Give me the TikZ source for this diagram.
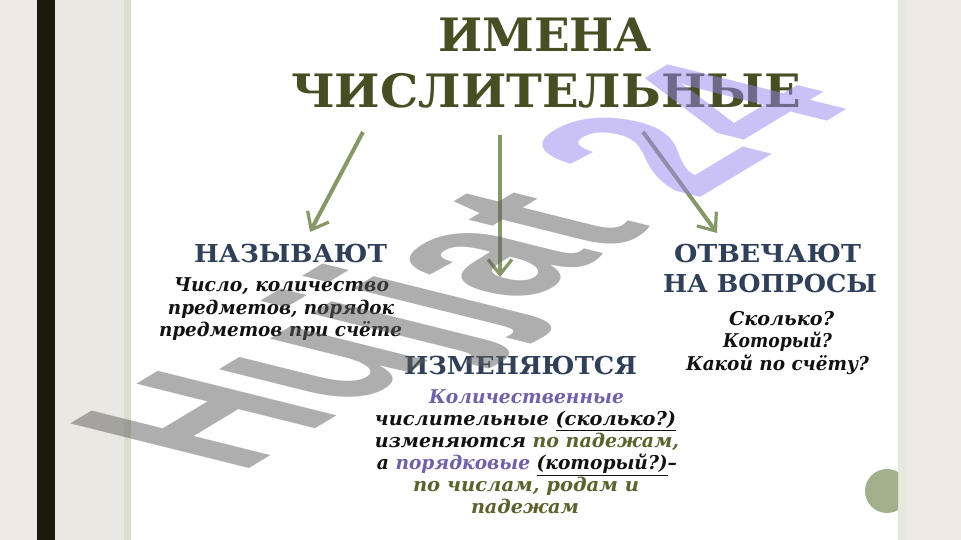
\documentclass[tikz,border=0pt]{standalone}
\usepackage{fontspec}
\usepackage{graphicx}
\setmainfont{DejaVu Serif}
\newfontfamily\wmfont{Liberation Sans}
\usetikzlibrary{arrows.meta}
\definecolor{bgside}{RGB}{239,233,229}
\definecolor{bgpanel}{RGB}{234,232,226}
\definecolor{barC}{RGB}{26,26,14}
\definecolor{lineC}{RGB}{218,222,206}
\definecolor{stripC}{RGB}{229,232,221}
\definecolor{circC}{RGB}{164,176,140}
\definecolor{titleC}{RGB}{72,78,36}
\definecolor{headC}{RGB}{47,64,88}
\definecolor{bodyC}{RGB}{17,17,17}
\definecolor{purpleC}{RGB}{112,96,168}
\definecolor{oliveC}{RGB}{92,98,46}
\definecolor{arrowC}{RGB}{134,151,104}
\definecolor{wmgrey}{RGB}{95,95,95}
\definecolor{wmlilac}{RGB}{150,134,240}
\newcommand{\fitw}[2]{\resizebox{#1}{\height}{#2}}
\tikzset{
  titlest/.style={inner sep=0pt, anchor=base, text=titleC, font=\bfseries\fontsize{46}{50}\selectfont},
  headst/.style={inner sep=0pt, anchor=base, text=headC, font=\bfseries\fontsize{24.7}{28}\selectfont},
  bodyst/.style={inner sep=0pt, anchor=base, text=bodyC, font=\bfseries\itshape\fontsize{19}{23}\selectfont},
  arr/.style={draw=arrowC, line width=4pt, -{Straight Barb[length=15pt,width=24pt,line width=3.2pt]}}
}
\begin{document}
\begin{tikzpicture}[x=1pt,y=1pt]
\clip (0,0) rectangle (961,540);
% background
\fill[bgside] (0,0) rectangle (961,540);
\fill[barC] (37,0) rectangle (55,540);
\fill[bgpanel] (55,0) rectangle (124,540);
\fill[lineC] (124,0) rectangle (131,540);
\fill[white] (131,0) rectangle (898,540);
\fill[stripC] (898,0) rectangle (906,540);
\begin{scope}
\clip (850,0) rectangle (898,540);
\fill[circC] (887,49) circle (22);
\end{scope}
% title
\node[titlest] (t1) at (545,488) {\fitw{214pt}{ИМЕНА}};
\node[titlest] (t2) at (546,432) {\fitw{510pt}{ЧИСЛИТЕЛЬНЫЕ}};
% left block
\node[headst] (h1) at (290.5,277) {\fitw{193pt}{НАЗЫВАЮТ}};
\node[bodyst] (b1a) at (281.5,248) {\fitw{215pt}{Число, количество}};
\node[bodyst] (b1b) at (281,225) {\fitw{226pt}{предметов, порядок}};
\node[bodyst] (b1c) at (280.5,203) {\fitw{243pt}{предметов при счёте}};
% middle block
\node[headst] (h2) at (520.5,165) {\fitw{233pt}{ИЗМЕНЯЮТСЯ}};
\node[bodyst, text=purpleC] (b2a) at (526.5,136) {\fitw{195pt}{Количественные}};
\node[bodyst] (b2b) at (525.5,114) {\fitw{301pt}{числительные \underline{(сколько?)}}};
\node[bodyst] (b2c) at (527,92) {\fitw{304pt}{изменяются {\color{oliveC}по падежам,}}};
\node[bodyst] (b2d) at (527,70) {\fitw{300pt}{а {\color{purpleC}порядковые} \underline{(который?)}–}};
\node[bodyst, text=oliveC] (b2e) at (526,48) {\fitw{226pt}{по числам, родам и}};
\node[bodyst, text=oliveC] (b2f) at (525,26) {\fitw{108pt}{падежам}};
% right block
\node[headst] (h3a) at (767.5,277) {\fitw{187pt}{ОТВЕЧАЮТ}};
\node[headst] (h3b) at (770,247) {\fitw{214pt}{НА ВОПРОСЫ}};
\node[bodyst] (b3a) at (781.5,214) {\fitw{105pt}{Сколько?}};
\node[bodyst] (b3b) at (777.5,192) {\fitw{109pt}{Который?}};
\node[bodyst] (b3c) at (777.5,169) {\fitw{183pt}{Какой по счёту?}};
% arrows
\coordinate (a1s) at (363,408);
\coordinate (a1e) at (310,308);
\coordinate (a2s) at (500,405);
\coordinate (a2e) at (500,263);
\coordinate (a3s) at (643,408);
\coordinate (a3e) at (717,307);
\draw[arr] (a1s) -- (a1e);
\draw[arr] (a2s) -- (a2e);
\draw[arr] (a3s) -- (a3e);
% watermark
\begin{scope}[cm={14.9,8.96,-26.0,6.48,(237,64)}]
\node[transform shape, anchor=base west, inner sep=0pt, text opacity=0.5,
      font=\wmfont\bfseries\fontsize{10}{12}\selectfont] (wm)
  {\textcolor{wmgrey}{Hujjat} \textcolor{wmlilac}{24}};
\end{scope}
\end{tikzpicture}
\end{document}
